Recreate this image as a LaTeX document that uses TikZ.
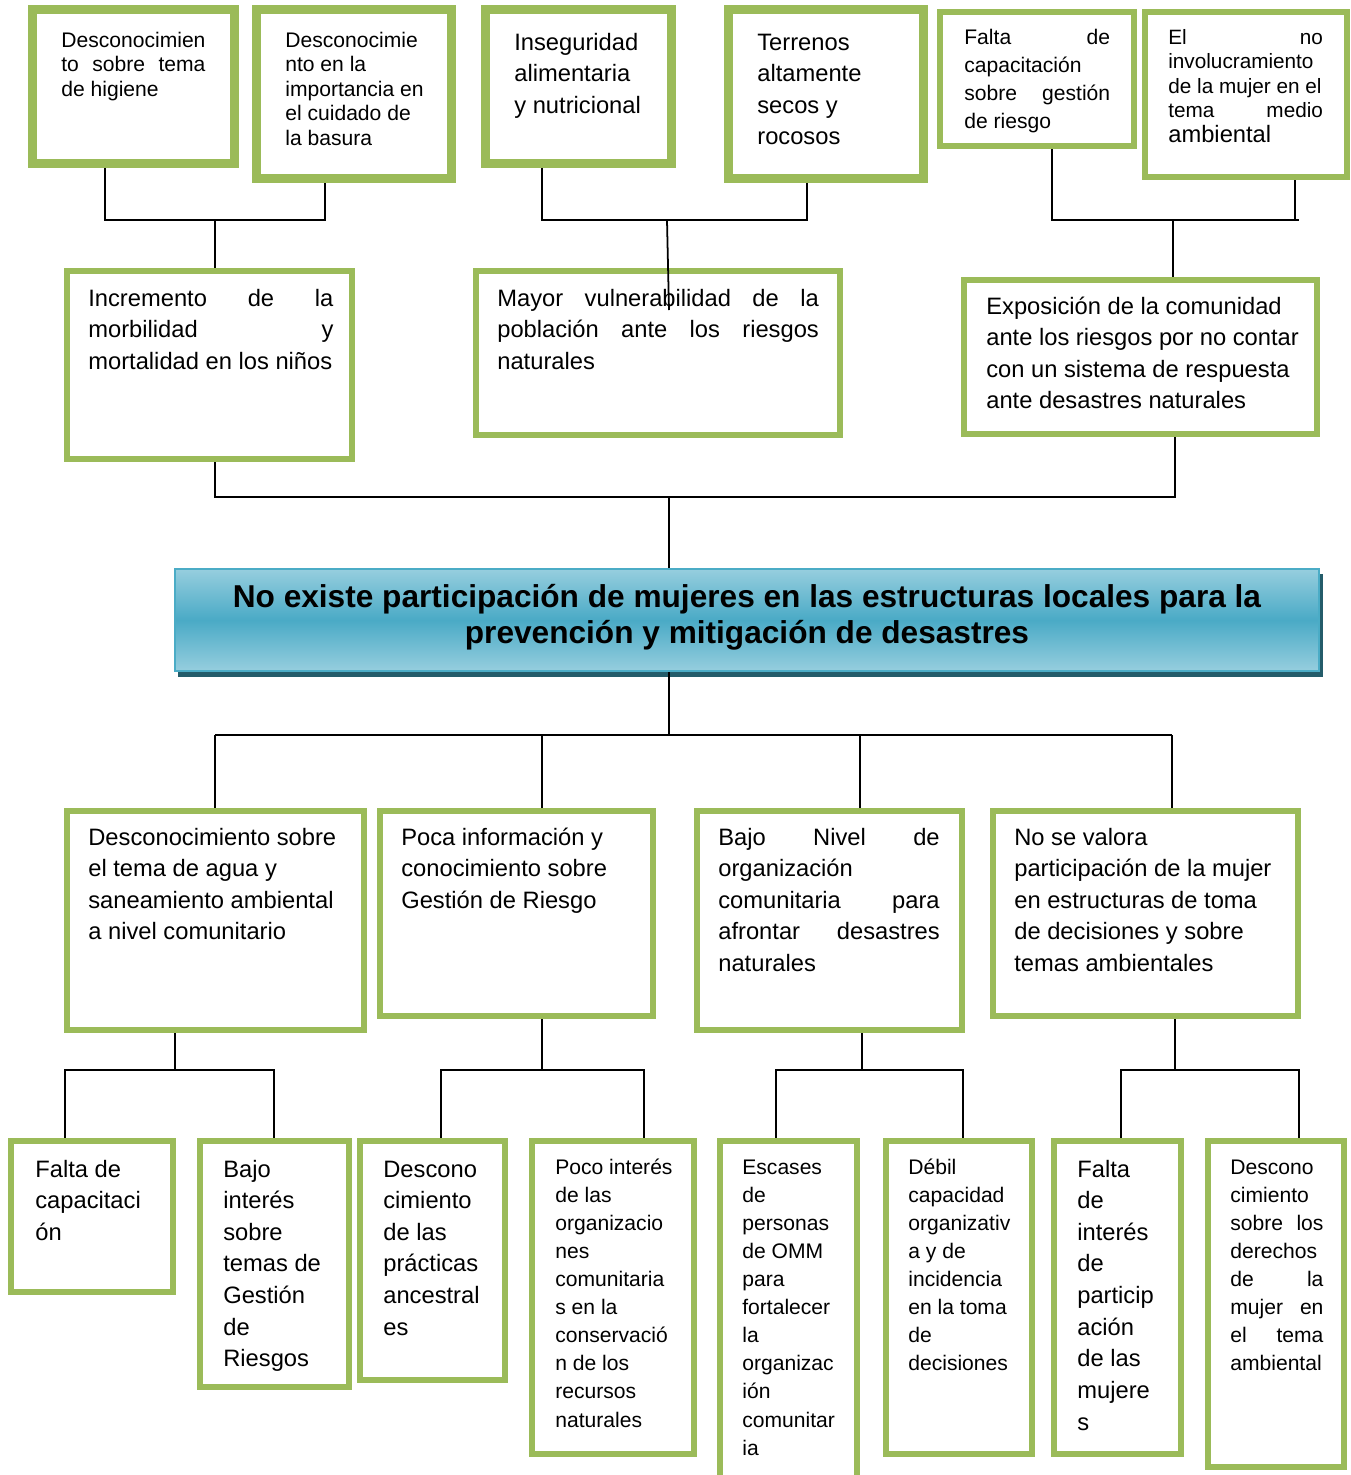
\documentclass[tikz,border=0pt]{standalone}
\usepackage{fontspec}
\setmainfont{Liberation Sans}
\usetikzlibrary{fit}
\definecolor{leaf}{RGB}{155,187,89}
\definecolor{skyL}{RGB}{150,206,222}
\definecolor{skyM}{RGB}{74,170,198}
\definecolor{skyB}{RGB}{75,172,198}
\definecolor{skyD}{RGB}{36,92,106}

\begin{document}
\begin{tikzpicture}[x=0.02cm,y=-0.02cm,
 hoja/.style={draw=leaf,line width=3.5pt,fill=white,inner sep=0pt},
 hojab/.style={draw=leaf,line width=5pt,fill=white,inner sep=0pt},
 anillo/.style={draw=leaf,line width=1.1pt},
 txt/.style={anchor=base west,inner sep=0pt,align=flush left,font=\fontsize{13.5}{18}\selectfont},
 txts/.style={txt,font=\fontsize{12}{14}\selectfont},
 txtn/.style={txt,font=\fontsize{12}{16}\selectfont},
 linea/.style={line width=1pt}]
 \useasboundingbox (0,0) rectangle (1351,1475);

 \node[hojab,fit={(32.5,9.5) (234.5,163.5)}] (hA) {};
 \draw[anillo] ([shift={(8,8)}]hA.north west) rectangle ([shift={(-8,-8)}]hA.south east);
 \node[hojab,fit={(256.5,9.5) (451.5,178.5)}] (hB) {};
 \draw[anillo] ([shift={(8,8)}]hB.north west) rectangle ([shift={(-8,-8)}]hB.south east);
 \node[hojab,fit={(485.5,9.5) (671.5,163.5)}] (hC) {};
 \draw[anillo] ([shift={(8,8)}]hC.north west) rectangle ([shift={(-8,-8)}]hC.south east);
 \node[hojab,fit={(728.5,9.5) (923.5,178.5)}] (hD) {};
 \draw[anillo] ([shift={(8,8)}]hD.north west) rectangle ([shift={(-8,-8)}]hD.south east);
 \node[hoja,fit={(940,12) (1134,146)}] (hE) {};
 \node[hoja,fit={(1145,12) (1347,177)}] (hF) {};

 \node[txts,text width=82pt] (tA) at (61,47) {Desconocimien\\to\hfill sobre\hfill tema\\de higiene};
 \node[txts,text width=80pt] (tB) at (285,47) {Desconocimie\\nto en la\\importancia en\\el cuidado de\\la basura};
 \node[txt,text width=80pt] (tC) at (514,50) {Inseguridad\\alimentaria\\y nutricional};
 \node[txt,text width=80pt] (tD) at (757,50) {Terrenos\\altamente\\secos y\\rocosos};
 \node[txtn,text width=83pt] (tE) at (964,44) {Falta\hfill de\\capacitación\\sobre\hfill gestión\\de riesgo};
 \node[txts,font=\fontsize{11.8}{14}\selectfont,text width=88pt] (tF) at (1168,44) {El\hfill no\\involucramiento\\de la mujer en el\\tema\hfill medio\\{\fontsize{13.5}{14}\selectfont ambiental}};

 \node[hoja,fit={(67,271) (352,459)}] (hG) {};
 \node[txt,text width=139.5pt] (tG) at (88,306) {Incremento\hfill de\hfill la\\morbilidad\hfill y\\mortalidad en los niños};
 \node[hoja,fit={(476,271) (840,435)}] (hH) {};
 \node[txt,text width=183pt] (tH) at (497,306) {Mayor\hfill vulnerabilidad\hfill de\hfill la\\población\hfill ante\hfill los\hfill riesgos\\naturales};
 \node[hoja,fit={(964,280) (1317,434)}] (hI) {};
 \node[txt,text width=185pt] (tI) at (986,314) {Exposición de la comunidad\\ante los riesgos por no contar\\con un sistema de respuesta\\ante desastres naturales};

 \fill[skyD] (178,574) rectangle (1323,677);
 \node[draw=skyB,line width=1.2pt,top color=skyL,bottom color=skyL,middle color=skyM,inner sep=0pt,fit={(175,569) (1319,671)}] (hT) {};
 \node[align=center,inner sep=0pt,font=\bfseries\fontsize{18}{20.4}\selectfont] (tT) at (747,617) {No existe participación de mujeres en las estructuras locales para la\\prevención y mitigación de desastres};

 \node[hoja,fit={(67,811) (364,1030)}] (hJ) {};
 \node[txt,text width=180pt] (tJ) at (88,845) {Desconocimiento sobre\\el tema de agua y\\saneamiento ambiental\\a nivel comunitario};
 \node[hoja,fit={(380,811) (653,1016)}] (hK) {};
 \node[txt,text width=150pt] (tK) at (401,845) {Poca información y\\conocimiento sobre\\Gestión de Riesgo};
 \node[hoja,fit={(697,811) (962,1030)}] (hL) {};
 \node[txt,text width=126pt] (tL) at (718,845) {Bajo\hfill Nivel\hfill de\\organización\\comunitaria\hfill para\\afrontar\hfill desastres\\naturales};
 \node[hoja,fit={(993,811) (1298,1016)}] (hM) {};
 \node[txt,text width=160pt] (tM) at (1014,845) {No se valora\\participación de la mujer\\en estructuras de toma\\de decisiones y sobre\\temas ambientales};

 \node[hoja,fit={(11,1141) (173,1292)}] (hN1) {};
 \node[txt,text width=70pt] (tN1) at (35,1177) {Falta de\\capacitaci\\ón};
 \node[hoja,fit={(200,1141) (349,1387)}] (hN2) {};
 \node[txt,text width=70pt] (tN2) at (223,1177) {Bajo\\interés\\sobre\\temas de\\Gestión\\de\\Riesgos};
 \node[hoja,fit={(360,1141) (505,1380)}] (hN3) {};
 \node[txt,text width=70pt] (tN3) at (383,1177) {Descono\\cimiento\\de las\\prácticas\\ancestral\\es};
 \node[hoja,fit={(532,1141) (694,1454)}] (hN4) {};
 \node[txtn,text width=70pt] (tN4) at (555,1174) {Poco interés\\de las\\organizacio\\nes\\comunitaria\\s en la\\conservació\\n de los\\recursos\\naturales};
 \node[hoja,fit={(720,1141) (857,1495)}] (hN5) {};
 \node[txtn,text width=60pt] (tN5) at (742,1174) {Escases\\de\\personas\\de OMM\\para\\fortalecer\\la\\organizac\\ión\\comunitar\\ia};
 \node[hoja,fit={(886,1141) (1032,1454)}] (hN6) {};
 \node[txtn,text width=60pt] (tN6) at (908,1174) {Débil\\capacidad\\organizativ\\a y de\\incidencia\\en la toma\\de\\decisiones};
 \node[hoja,fit={(1054,1141) (1181,1454)}] (hN7) {};
 \node[txt,text width=60pt] (tN7) at (1077,1177) {Falta\\de\\interés\\de\\particip\\ación\\de las\\mujere\\s};
 \node[hoja,fit={(1208,1141) (1344,1467)}] (hN8) {};
 \node[txtn,text width=53pt] (tN8) at (1230,1174) {Descono\\cimiento\\sobre\hfill los\\derechos\\de\hfill la\\mujer\hfill en\\el\hfill tema\\ambiental};

 \coordinate (bA) at (105,220);
 \coordinate (bB) at (325,220);
 \coordinate (bG) at (215,220);
 \draw[linea] (hA.south -| bA) -- (bA) -- (bB) -- (hB.south -| bB);
 \draw[linea] (bG) -- (hG.north -| bG);
 \coordinate (bC) at (542,220);
 \coordinate (bD) at (807,220);
 \coordinate (bH) at (667,220);
 \coordinate (bHin) at (669,310);
 \draw[linea] (hC.south -| bC) -- (bC) -- (bD) -- (hD.south -| bD);
 \draw[linea] (bH) -- (bHin);
 \coordinate (bE) at (1052,220);
 \coordinate (bF) at (1295,220);
 \coordinate (bFF) at (1299,220);
 \coordinate (bI) at (1173,220);
 \draw[linea] (hE.south -| bE) -- (bE) -- (bFF);
 \draw[linea] (hF.south -| bF) -- (bF);
 \draw[linea] (bI) -- (hI.north -| bI);

 \coordinate (cG) at (215,497);
 \coordinate (cI) at (1175,497);
 \coordinate (cT) at (669,497);
 \draw[linea] (hG.south -| cG) -- (cG) -- (cI) -- (hI.south -| cI);
 \draw[linea] (cT) -- (hT.north -| cT);

 \coordinate (dT) at (669,735);
 \coordinate (dJ) at (215,735);
 \coordinate (dK) at (542,735);
 \coordinate (dL) at (860,735);
 \coordinate (dM) at (1172,735);
 \draw[linea] (hT.south -| dT) -- (dT);
 \draw[linea] (dJ) -- (dM);
 \draw[linea] (dJ) -- (hJ.north -| dJ);
 \draw[linea] (dK) -- (hK.north -| dK);
 \draw[linea] (dL) -- (hL.north -| dL);
 \draw[linea] (dM) -- (hM.north -| dM);

 \coordinate (eJ) at (175,1070);
 \coordinate (e1) at (65,1070);
 \coordinate (e2) at (274,1070);
 \draw[linea] (hJ.south -| eJ) -- (eJ);
 \draw[linea] (hN1.north -| e1) -- (e1) -- (e2) -- (hN2.north -| e2);
 \coordinate (eK) at (542,1070);
 \coordinate (e3) at (441,1070);
 \coordinate (e4) at (644,1070);
 \draw[linea] (hK.south -| eK) -- (eK);
 \draw[linea] (hN3.north -| e3) -- (e3) -- (e4) -- (hN4.north -| e4);
 \coordinate (eL) at (862,1070);
 \coordinate (e5) at (776,1070);
 \coordinate (e6) at (963,1070);
 \draw[linea] (hL.south -| eL) -- (eL);
 \draw[linea] (hN5.north -| e5) -- (e5) -- (e6) -- (hN6.north -| e6);
 \coordinate (eM) at (1175,1070);
 \coordinate (e7) at (1121,1070);
 \coordinate (e8) at (1299,1070);
 \draw[linea] (hM.south -| eM) -- (eM);
 \draw[linea] (hN7.north -| e7) -- (e7) -- (e8) -- (hN8.north -| e8);
\end{tikzpicture}
\end{document}
